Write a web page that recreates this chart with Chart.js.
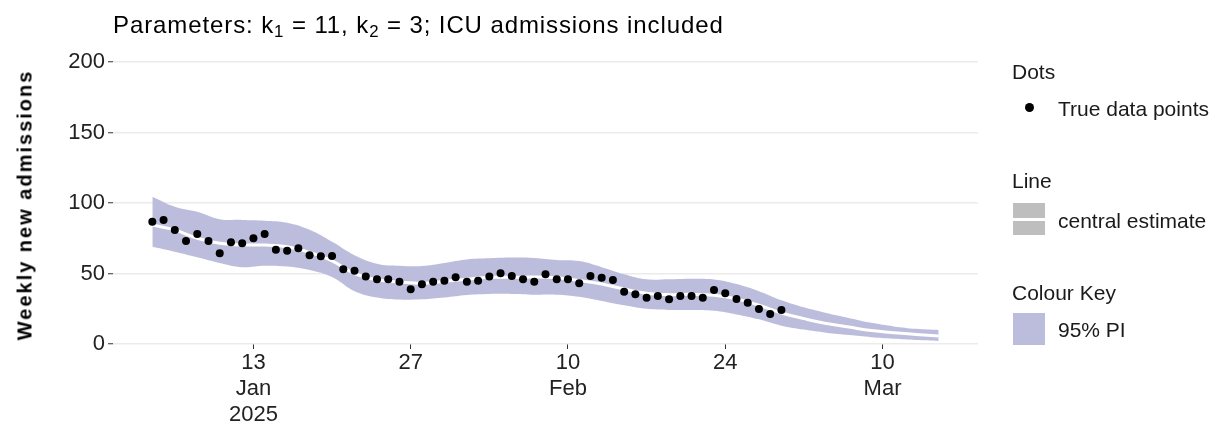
<!DOCTYPE html>
<html>
<head>
<meta charset="utf-8">
<script src="https://cdn.jsdelivr.net/npm/chart.js@4.4.1/dist/chart.umd.min.js"></script>
<style>
  body { margin: 0; background: #fff; font-family: "Liberation Sans", Arial, sans-serif; color: #1a1a1a; }
  #wrap { position: relative; width: 1216px; height: 423px; }
  #chart { position: absolute; left: 0; top: 0; }
  .txt { position: absolute; white-space: nowrap; font-size: 21px; line-height: 21px; }
  #title { left: 113px; top: 13px; font-size: 24px; line-height: 24px; letter-spacing: 0.9px; color: #000; }
  #title sub { font-size: 70%; vertical-align: -0.25em; line-height: 0; }
  #ytitle { left: 25px; top: 205px; font-size: 20px; font-weight: bold; letter-spacing: 2px;
            transform: translate(-50%, -50%) rotate(-90deg); color: #000; }
  .swatch { position: absolute; width: 32px; height: 32px; }
</style>
</head>
<body>
<div id="wrap">
  <canvas id="chart" width="1216" height="423"></canvas>
  <div id="title" class="txt">Parameters: k<sub>1</sub> = 11, k<sub>2</sub> = 3; ICU admissions included</div>
  <div id="ytitle" class="txt">Weekly new admissions</div>

  <div class="txt" style="left:1012px; top:61px;">Dots</div>
  <div style="position:absolute; left:1025px; top:103px; width:9px; height:9px; border-radius:50%; background:#000;"></div>
  <div class="txt" style="left:1058px; top:98px;">True data points</div>

  <div class="txt" style="left:1012px; top:170px;">Line</div>
  <div class="swatch" style="left:1013px; top:203px; background:#bebebe;">
    <div style="position:absolute; left:0; top:14.5px; width:32px; height:3px; background:#fff;"></div>
  </div>
  <div class="txt" style="left:1058px; top:210px;">central estimate</div>

  <div class="txt" style="left:1012px; top:282px;">Colour Key</div>
  <div class="swatch" style="left:1013px; top:313px; background:#bcbddc;"></div>
  <div class="txt" style="left:1058px; top:319px;">95% PI</div>
</div>
<script>
// day 0 = 4 Jan 2025
const dotValues = [
  86.7, 87.9, 80.9, 73.0, 78.0, 73.0, 64.3, 72.1, 71.4, 75.0,
  78.0, 66.9, 66.2, 67.9, 62.9, 62.2, 62.4, 53.0, 52.0, 47.8,
  45.9, 45.9, 44.2, 38.8, 42.3, 44.2, 44.9, 47.3, 44.2, 44.9,
  47.8, 50.1, 48.2, 45.9, 44.2, 49.4, 45.9, 45.9, 43.0, 48.2,
  47.0, 45.4, 37.1, 35.2, 32.8, 34.0, 31.7, 34.0, 34.0, 32.8,
  38.3, 36.0, 31.9, 29.3, 24.8, 21.3, 24.1
];

const bandDays = [0, 2, 4, 6, 8, 10, 12, 14, 16, 18, 20, 22, 24, 26, 28, 30, 32, 34,
  36, 38, 40, 42, 44, 46, 48, 50, 52, 54, 56, 58, 60, 62, 64, 66, 68, 70];
const bandUpper = [104.5, 97.4, 93.8, 88.5, 88.0, 87.5, 86.0, 81.0, 72.5, 63.0, 57.0, 55.5,
  55.3, 57.5, 60.0, 60.8, 61.3, 61.0, 59.6, 58.8, 54.5, 49.5, 45.9, 45.9, 46.3, 45.8,
  42.5, 37.5, 31.0, 26.0, 22.0, 18.5, 15.0, 12.5, 10.8, 9.9];
const bandLower = [69.0, 65.5, 61.5, 57.5, 54.5, 55.5, 55.0, 52.5, 47.5, 37.5, 33.0, 31.5,
  31.7, 33.0, 34.8, 35.5, 35.5, 35.0, 35.0, 33.5, 30.5, 27.5, 25.0, 24.2, 24.1, 23.5,
  21.0, 17.5, 13.0, 10.2, 8.0, 6.3, 4.8, 3.7, 2.8, 2.1];
const centralEstimate = [84.4, 80.9, 75.0, 71.5, 70.2, 70.2, 69.0, 65.0, 59.0, 50.0, 45.5, 44.0,
  43.0, 44.5, 46.0, 47.3, 47.3, 47.5, 47.0, 45.0, 42.5, 39.0, 36.0, 35.0, 35.2, 34.5,
  32.0, 27.5, 22.0, 18.0, 14.5, 12.0, 9.5, 8.0, 6.8, 5.7];

const tickDays = [9, 23, 37, 51, 65];
const tickLabels = [["13", "Jan", "2025"], ["27"], ["10", "Feb"], ["24"], ["10", "Mar"]];
const yTicks = [0, 50, 100, 150, 200];

const bandColor = "#bcbddc";
const toPoints = (days, values) => days.map((day, index) => ({ x: day, y: values[index] }));

new Chart(document.getElementById("chart"), {
  type: "line",
  data: {
    datasets: [
      {
        label: "True data points",
        data: dotValues.map((value, index) => ({ x: index, y: value })),
        showLine: false,
        pointRadius: 4,
        pointBorderWidth: 0,
        pointBackgroundColor: "#000",
        borderColor: "#000"
      },
      {
        label: "central estimate",
        data: toPoints(bandDays, centralEstimate),
        borderColor: "#fff",
        borderWidth: 3,
        pointRadius: 0,
        tension: 0.4
      },
      {
        label: "lower",
        data: toPoints(bandDays, bandLower),
        borderWidth: 0,
        borderColor: "rgba(0,0,0,0)",
        pointRadius: 0,
        tension: 0.4,
        fill: false
      },
      {
        label: "95% PI",
        data: toPoints(bandDays, bandUpper),
        borderWidth: 0,
        borderColor: "rgba(0,0,0,0)",
        backgroundColor: bandColor,
        pointRadius: 0,
        tension: 0.4,
        fill: "-1"
      }
    ]
  },
  options: {
    responsive: false,
    animation: false,
    devicePixelRatio: 1,
    layout: { padding: { top: 62, right: 238, bottom: 0, left: 0 } },
    plugins: { legend: { display: false }, tooltip: { enabled: false } },
    scales: {
      x: {
        type: "linear",
        min: -3.5,
        max: 73.5,
        afterBuildTicks: (scale) => { scale.ticks = tickDays.map((value) => ({ value })); },
        afterFit: (scale) => { scale.height = 79; },
        border: { display: false },
        grid: { drawOnChartArea: false, drawTicks: true, tickLength: 5, tickColor: "#333", tickWidth: 1 },
        ticks: {
          autoSkip: false,
          maxRotation: 0,
          padding: 1,
          color: "#222",
          font: { family: "'Liberation Sans', Arial, sans-serif", size: 22, lineHeight: 1.18 },
          callback: (value) => tickLabels[tickDays.indexOf(value)] || ""
        }
      },
      y: {
        min: 0,
        max: 200,
        afterBuildTicks: (scale) => { scale.ticks = yTicks.map((value) => ({ value })); },
        afterFit: (scale) => { scale.width = 113; },
        border: { display: false },
        grid: { color: "#ebebeb", lineWidth: 1.5, tickColor: "#333", tickLength: 5, tickWidth: 1 },
        ticks: {
          padding: 3,
          color: "#222",
          font: { family: "'Liberation Sans', Arial, sans-serif", size: 22 }
        }
      }
    }
  }
});
</script>
</body>
</html>
